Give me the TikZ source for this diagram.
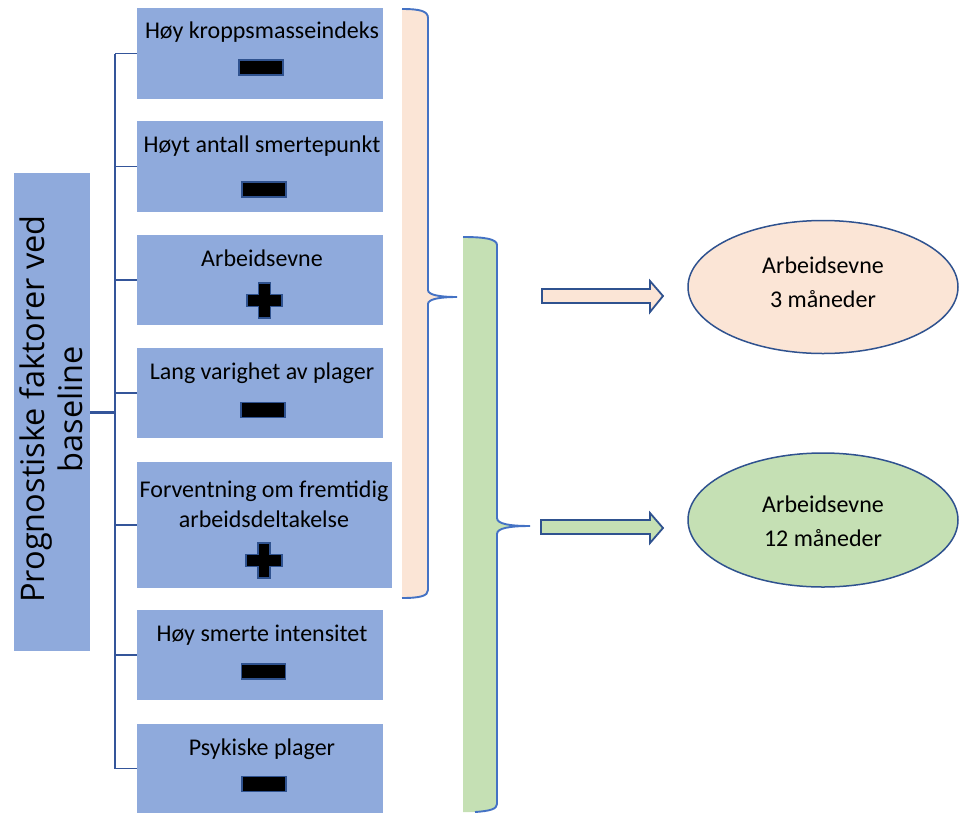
\documentclass[tikz,border=0pt]{standalone}
\usepackage{fontspec}
\setmainfont{Carlito}
\newfontfamily\leftfont{Open Sans}
\usetikzlibrary{shapes.geometric,calc}
\definecolor{boxblue}{HTML}{8FAADC}
\definecolor{peach}{HTML}{FBE5D6}
\definecolor{lgreen}{HTML}{C5E0B4}
\definecolor{bracecol}{HTML}{4472C4}
\definecolor{darkblue}{HTML}{2F528F}
\definecolor{linecol}{HTML}{34559A}
\begin{document}
\begin{tikzpicture}[x=1pt,y=-1pt,
  box/.style={fill=boxblue, inner sep=0pt, minimum width=246pt, minimum height=90pt},
  boxtext/.style={anchor=base, inner sep=0pt, font=\fontsize{24}{30}\selectfont, align=center},
  conn/.style={draw=linecol, line width=2pt},
  bracestroke/.style={draw=bracecol, line width=1.9pt},
  minussign/.style={fill=black, draw=darkblue, line width=1.3pt, inner sep=0pt, minimum width=44pt, minimum height=15pt},
  plussign/.style={fill=black, draw=darkblue, line width=1.3pt, line join=miter},
  blockarrow/.style={draw=darkblue, line width=1.8pt, line join=miter},
  oval/.style={ellipse, draw=darkblue, line width=1.5pt, inner sep=0pt, minimum width=270pt, minimum height=133pt},
  ovaltext/.style={inner sep=0pt, align=center, font=\fontsize{24}{34}\selectfont}
]
\useasboundingbox (0,0) rectangle (959,812);

% left box
\node[fill=boxblue, inner sep=0pt, minimum width=76pt, minimum height=478pt] (L) at (52,412) {};
\node[rotate=90, inner sep=0pt, align=center, font=\leftfont\fontsize{32.5}{38}\selectfont] (Lt) at (51,409) {Prognostiske faktorer ved\\baseline};

% factor boxes
\node[box, minimum height=91pt] (b1) at (260,53.5) {};
\node[box, minimum height=91pt] (b2) at (260,166.5) {};
\node[box] (b3) at (260,280) {};
\node[box] (b4) at (260,393) {};
\node[box, minimum width=255pt, minimum height=126pt] (b5) at (264.5,525) {};
\node[box] (b6) at (260,655) {};
\node[box, minimum height=89pt] (b7) at (260,768.5) {};

\node[boxtext] (t1) at (262,38) {Høy kroppsmasseindeks};
\node[boxtext] (t2) at (262,152) {Høyt antall smertepunkt};
\node[boxtext] (t3) at (262,266) {Arbeidsevne};
\node[boxtext] (t4) at (262,379) {Lang varighet av plager};
\node[boxtext] (t5a) at (264,497) {Forventning om fremtidig};
\node[boxtext] (t5b) at (264,527) {arbeidsdeltakelse};
\node[boxtext] (t6) at (262,641) {Høy smerte intensitet};
\node[boxtext] (t7) at (262,755) {Psykiske plager};

% signs
\node[minussign] (m1) at (261,67.5) {};
\node[minussign] (m2) at (264,189.5) {};
\node[minussign] (m4) at (263,410) {};
\node[minussign] (m6) at (263.5,671.5) {};
\node[minussign] (m7) at (264,784) {};
\draw[plussign] (258.5,283) -- (270.5,283) -- (270.5,294.5) -- (282,294.5) -- (282,306.5) -- (270.5,306.5) -- (270.5,318) -- (258.5,318) -- (258.5,306.5) -- (247,306.5) -- (247,294.5) -- (258.5,294.5) -- cycle;
\draw[plussign] (258,543) -- (270,543) -- (270,554.5) -- (282,554.5) -- (282,566.5) -- (270,566.5) -- (270,578) -- (258,578) -- (258,566.5) -- (246,566.5) -- (246,554.5) -- (258,554.5) -- cycle;

% connectors
\coordinate (J) at (115,412);
\draw[conn, line width=3pt] (L.east) -- (J);
\draw[conn] (J |- b1.west) -- (J |- b7.west);
\foreach \b in {b1,b2,b3,b4,b5,b6,b7}{
  \draw[conn, line width=1.6pt] (J |- \b.west) -- (\b.west);
}

% peach brace
\fill[peach] (402,9) .. controls (420,9) and (428,11) .. (428,18) -- (428,290) .. controls (428,295) and (440,297) .. (457,297) .. controls (440,297) and (428,299) .. (428,304) -- (428,590) .. controls (428,596) and (420,598) .. (402,598) -- cycle;
\draw[bracestroke] (402,9) .. controls (420,9) and (428,11) .. (428,18) -- (428,290) .. controls (428,295) and (440,297) .. (457,297) .. controls (440,297) and (428,299) .. (428,304) -- (428,590) .. controls (428,596) and (420,598) .. (402,598);

% green brace
\fill[lgreen] (463,237) .. controls (485,237) and (497,239) .. (497,245) -- (497,518) .. controls (497,524) and (510,526) .. (530,526) .. controls (510,526) and (497,528) .. (497,534) -- (497,804) .. controls (497,809) and (490,811) .. (475,812) -- (463,812) -- cycle;
\draw[bracestroke] (463,237) .. controls (485,237) and (497,239) .. (497,245) -- (497,518) .. controls (497,524) and (510,526) .. (530,526) .. controls (510,526) and (497,528) .. (497,534) -- (497,804) .. controls (497,809) and (490,811) .. (475,812);

% block arrows
\filldraw[blockarrow, fill=peach] (542,289) -- (650,289) -- (650,281) -- (663,296) -- (650,312) -- (650,303) -- (542,303) -- cycle;
\filldraw[blockarrow, fill=lgreen] (541,520) -- (650,520) -- (650,513) -- (663,528) -- (650,543) -- (650,534) -- (541,534) -- cycle;

% outcome ellipses
\node[oval, fill=peach] (e1) at (823,287) {};
\node[ovaltext] (e1t) at (823,282) {Arbeidsevne\\3 måneder};
\node[oval, fill=lgreen, minimum height=134pt] (e2) at (823,520) {};
\node[ovaltext] (e2t) at (823,521) {Arbeidsevne\\12 måneder};
\end{tikzpicture}
\end{document}
